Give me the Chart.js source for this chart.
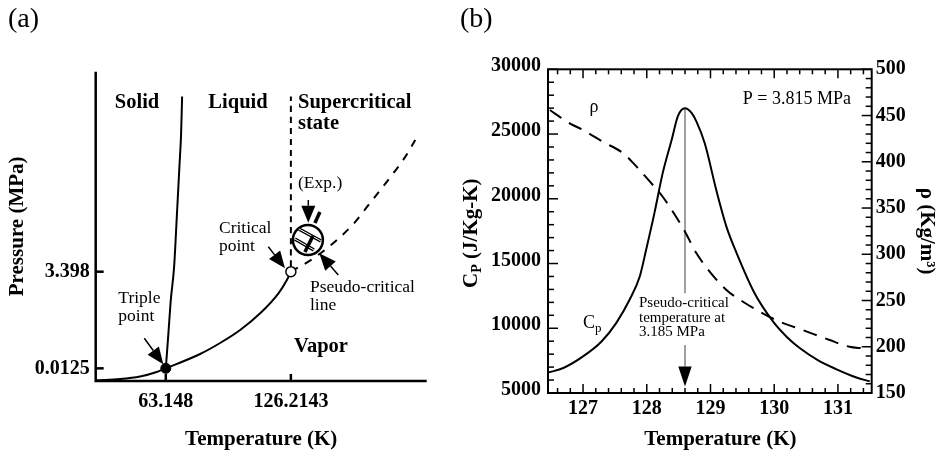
<!DOCTYPE html>
<html><head><meta charset="utf-8">
<script src="https://cdn.jsdelivr.net/npm/chart.js@4.4.0/dist/chart.umd.min.js"></script>
<style>
html,body{margin:0;padding:0;background:#fff;width:937px;height:450px;overflow:hidden}
#wa{position:absolute;left:0;top:0;width:455px;height:450px}
#wb{position:absolute;left:455px;top:0;width:482px;height:450px}
</style></head><body>
<div id="wa"><canvas id="ca"></canvas></div>
<div id="wb"><canvas id="cb"></canvas></div>
<script>
// ---------- Panel (a): schematic phase diagram ----------
const meltT   = [63.148, 64.46, 65.67, 67.34, 68.70, 70.01, 70.87, 71.37];
const meltP   = [0.0125, 0.0953, 0.658, 4.54, 82.7, 1505, 10450, 87400];
const vapT    = [28.34, 40.09, 50.18, 57.75, 63.148, 80.45, 90.54, 100.64, 110.73, 119.96, 124.20, 126.2143];
const vapP    = [0.00627, 0.00672, 0.00777, 0.0098, 0.0125, 0.0287, 0.0543, 0.1154, 0.304, 0.970, 2.10, 3.398];
const isoT    = [126.2143, 126.2143];
const isoP    = [4.7, 87400];
const pseudoT = [126.2143, 137.62, 149.42, 158.66, 165.37, 172.13, 177.98, 183.88, 188.93];
const pseudoP = [3.398, 7.40, 21.4, 60.8, 163, 437, 1044, 2642, 7083];
const tripleT = [63.148], tripleP = [0.0125];
const critT   = [126.2143], critP = [3.398];
const expT    = 134.8, expP = 21.4;
const aTickT  = [63.148, 126.2143];
const aTickTLabels = ['63.148', '126.2143'];
const aTickP  = [0.0125, 3.398];
const aTickPLabels = ['0.0125', '3.398'];

// ---------- Panel (b): Cp and density vs temperature ----------
const cpT  = [126.46, 126.69, 127.0, 127.29, 127.52, 127.73, 127.89, 127.99, 128.12, 128.25, 128.39, 128.49, 128.60, 128.70, 128.78, 128.91, 129.09, 129.25, 129.41, 129.69, 129.98, 130.19, 130.40, 130.69, 130.97, 131.29, 131.50];
const cpV  = [6590, 6930, 7825, 8980, 10400, 12200, 14000, 16060, 18890, 21980, 24540, 26400, 26990, 26650, 25960, 24290, 20690, 17850, 15800, 12720, 10530, 9370, 8470, 7520, 6850, 6200, 5900];
const rhoT = [126.48, 126.79, 127.0, 127.31, 127.63, 127.84, 128.05, 128.25, 128.46, 128.60, 128.78, 128.99, 129.25, 129.51, 129.82, 130.09, 130.45, 130.87, 131.18, 131.39];
const rhoV = [456, 441.6, 434.4, 421.7, 409.2, 394.7, 378.5, 362.2, 340.6, 324.4, 301, 281, 261.4, 248.7, 236.2, 227, 218, 207.3, 200, 198.3];
const bTickT   = [127, 128, 129, 130, 131];
const bTickCp  = [5000, 10000, 15000, 20000, 25000, 30000];
const bTickRho = [150, 200, 250, 300, 350, 400, 450, 500];
const pcT = 128.6, pcCp = 26990;

const FONT = '"Liberation Serif", "Times New Roman", serif';
const pts = (xs, ys) => xs.map((v, i) => ({x: v, y: ys[i]}));

function arrow(ctx, x1, y1, x2, y2, hl, hw, lw, col) {
  const dx = x2 - x1, dy = y2 - y1, L = Math.hypot(dx, dy), ux = dx / L, uy = dy / L;
  const bx = x2 - ux * hl, by = y2 - uy * hl;
  ctx.save();
  ctx.strokeStyle = col || '#000'; ctx.fillStyle = '#000'; ctx.lineWidth = lw;
  ctx.beginPath(); ctx.moveTo(x1, y1); ctx.lineTo(bx, by); ctx.stroke();
  ctx.beginPath(); ctx.moveTo(x2, y2);
  ctx.lineTo(bx - uy * hw, by + ux * hw); ctx.lineTo(bx + uy * hw, by - ux * hw);
  ctx.closePath(); ctx.fill();
  ctx.restore();
}
function text(ctx, t, x, y, size, bold, align) {
  ctx.save();
  ctx.font = (bold ? 'bold ' : '') + size + 'px ' + FONT;
  ctx.fillStyle = '#000'; ctx.textAlign = align || 'left'; ctx.textBaseline = 'middle';
  ctx.fillText(t, x, y);
  ctx.restore();
}

const aLabels = [
  {t: 'Solid', fx: .1248, fy: .1012, b: true, s: 20.5, a: 'center'},
  {t: 'Liquid', fx: .4299, fy: .1012, b: true, s: 20.5, a: 'center'},
  {t: 'Supercritical', fx: .6112, fy: .1012, b: true, s: 20.5, a: 'left'},
  {t: 'state', fx: .6112, fy: .1668, b: true, s: 20.5, a: 'left'},
  {t: 'Vapor', fx: .6807, fy: .890, b: true, s: 20.5, a: 'center'},
  {t: '(Exp.)', fx: .6112, fy: .3598, b: false, s: 17.5, a: 'left'},
  {t: 'Critical', fx: .3725, fy: .5053, b: false, s: 17.5, a: 'left'},
  {t: 'point', fx: .3725, fy: .5634, b: false, s: 17.5, a: 'left'},
  {t: 'Pseudo-critical', fx: .6474, fy: .697, b: false, s: 17.5, a: 'left'},
  {t: 'line', fx: .6474, fy: .7543, b: false, s: 17.5, a: 'left'},
  {t: 'Triple', fx: .0683, fy: .7326, b: false, s: 17.5, a: 'left'},
  {t: 'point', fx: .0683, fy: .7921, b: false, s: 17.5, a: 'left'}
];
const aArrows = [
  [.1468, .862, .2042, .9459],
  [.5215, .5658, .5719, .6356],
  [.6423, .4148, .6423, .4882],
  [.7329, .6573, .6755, .5871]
];

const panelA = {
  id: 'panelA',
  afterDatasetsDraw(chart) {
    const {ctx, scales: {x, y}} = chart;
    const cx = x.getPixelForValue(expT), cy = y.getPixelForValue(expP), r = 15;
    ctx.save();
    ctx.beginPath(); ctx.arc(cx, cy, r, 0, Math.PI * 2);
    ctx.fillStyle = '#fff'; ctx.fill();
    ctx.lineWidth = 2.5; ctx.strokeStyle = '#000'; ctx.stroke();
    ctx.lineCap = 'butt';
    ctx.lineWidth = 3.5;
    ctx.beginPath(); ctx.moveTo(cx - 9, cy - 11); ctx.lineTo(cx + 13, cy + 1); ctx.stroke();
    ctx.beginPath(); ctx.moveTo(cx - 13, cy - 1); ctx.lineTo(cx + 6, cy + 10); ctx.stroke();
    ctx.lineWidth = 1; ctx.strokeStyle = '#fff';
    ctx.beginPath(); ctx.moveTo(cx - 9, cy - 11); ctx.lineTo(cx + 13, cy + 1); ctx.stroke();
    ctx.beginPath(); ctx.moveTo(cx - 13, cy - 1); ctx.lineTo(cx + 6, cy + 10); ctx.stroke();
    ctx.strokeStyle = '#000'; ctx.lineWidth = 3.5;
    ctx.beginPath(); ctx.moveTo(cx + 5, cy - 4); ctx.lineTo(cx - 3, cy + 12); ctx.stroke();
    ctx.beginPath(); ctx.moveTo(cx + 12, cy - 28); ctx.lineTo(cx + 7, cy - 17); ctx.stroke();
    ctx.restore();
  },
  afterDraw(chart) {
    const {ctx, chartArea: ca, scales: {x, y}} = chart;
    const W = ca.right - ca.left, H = ca.bottom - ca.top;
    ctx.save();
    ctx.strokeStyle = '#000'; ctx.lineWidth = 2.5;
    ctx.beginPath(); ctx.moveTo(ca.left, ca.top); ctx.lineTo(ca.left, ca.bottom); ctx.lineTo(ca.right, ca.bottom); ctx.stroke();
    aTickT.forEach(v => { const p = x.getPixelForValue(v); ctx.beginPath(); ctx.moveTo(p, ca.bottom); ctx.lineTo(p, ca.bottom - 7); ctx.stroke(); });
    aTickP.forEach(v => { const p = y.getPixelForValue(v); ctx.beginPath(); ctx.moveTo(ca.left, p); ctx.lineTo(ca.left + 8, p); ctx.stroke(); });
    ctx.restore();
    aLabels.forEach(l => text(ctx, l.t, ca.left + l.fx * W, ca.top + l.fy * H, l.s, l.b, l.a));
    aArrows.forEach(a => arrow(ctx, ca.left + a[0] * W, ca.top + a[1] * H, ca.left + a[2] * W, ca.top + a[3] * H, 17, 7, 1.5));
    text(ctx, '(a)', 8, 20, 28, false, 'left');
  }
};

const lineA = {showLine: true, borderColor: '#000', borderWidth: 2, pointRadius: 0, cubicInterpolationMode: 'monotone'};

new Chart(document.getElementById('ca'), {
  type: 'scatter',
  data: {datasets: [
    {data: pts(critT, critP), pointRadius: 5, pointBackgroundColor: '#fff', pointBorderColor: '#000', pointBorderWidth: 1.5, showLine: false},
    {data: pts(tripleT, tripleP), pointRadius: 5, pointBackgroundColor: '#000', pointBorderColor: '#000', showLine: false},
    Object.assign({data: pts(meltT, meltP)}, lineA),
    Object.assign({data: pts(vapT, vapP)}, lineA),
    Object.assign({data: pts(isoT, isoP), borderDash: [6, 5]}, lineA),
    Object.assign({data: pts(pseudoT, pseudoP), borderDash: [8, 8]}, lineA)
  ]},
  options: {
    responsive: true, maintainAspectRatio: false, animation: false, devicePixelRatio: 1,
    layout: {padding: {top: 71.7, right: 28.3, left: 0, bottom: 0}},
    plugins: {legend: {display: false}, tooltip: {enabled: false}},
    scales: {
      x: {type: 'linear', min: 27.8, max: 194.7,
        afterBuildTicks: s => { s.ticks = aTickT.map(v => ({value: v})); },
        ticks: {callback: (v, i) => aTickTLabels[i], color: '#000', font: {family: FONT, size: 20, weight: 'bold'}, padding: 9, maxRotation: 0, autoSkip: false},
        grid: {display: false, drawTicks: false}, border: {display: false},
        title: {display: true, text: 'Temperature (K)', color: '#000', font: {family: FONT, size: 21, weight: 'bold', lineHeight: 1}, padding: {top: 0, bottom: 0}},
        afterFit: s => { s.height = 69; }
      },
      y: {type: 'logarithmic', min: 0.006, max: 3.7e5,
        afterBuildTicks: s => { s.ticks = aTickP.map(v => ({value: v})); },
        ticks: {callback: (v, i) => aTickPLabels[i], color: '#000', font: {family: FONT, size: 20, weight: 'bold'}, padding: 6, autoSkip: false},
        grid: {display: false, drawTicks: false}, border: {display: false},
        title: {display: true, text: 'Pressure (MPa)', color: '#000', font: {family: FONT, size: 21, weight: 'bold', lineHeight: 1}, padding: {top: 7, bottom: 0}},
        afterFit: s => { s.width = 95.7; }
      }
    }
  },
  plugins: [panelA]
});

// ---------- Panel (b) plugin ----------
const bLabels = [
  {t: 'P = 3.815 MPa', fx: .936, fy: .0927, s: 18, a: 'right'},
  {t: 'ρ', fx: .142, fy: .118, s: 18, a: 'center'},
  {t: 'Pseudo-critical', fx: .281, fy: .722, s: 15, a: 'left'},
  {t: 'temperature at', fx: .281, fy: .767, s: 15, a: 'left'},
  {t: '3.185 MPa', fx: .281, fy: .811, s: 15, a: 'left'}
];
const panelB = {
  id: 'panelB',
  beforeDatasetsDraw(chart) {
    const {ctx, scales: {x, y}} = chart;
    const px = x.getPixelForValue(pcT);
    ctx.save(); ctx.strokeStyle = '#808080'; ctx.lineWidth = 1.5;
    ctx.beginPath(); ctx.moveTo(px, y.getPixelForValue(pcCp)); ctx.lineTo(px, y.getPixelForValue(12700)); ctx.stroke();
    ctx.restore();
    arrow(ctx, px, y.getPixelForValue(8700), px, y.getPixelForValue(5500), 20, 6.7, 1.5, '#808080');
  },
  afterDraw(chart) {
    const {ctx, chartArea: ca, scales: {x, y, y1}} = chart;
    const W = ca.right - ca.left, H = ca.bottom - ca.top;
    ctx.save();
    ctx.strokeStyle = '#000'; ctx.lineWidth = 2;
    ctx.strokeRect(ca.left, ca.top, W, H);
    ctx.lineWidth = 1.5;
    const seg = (x1, y1_, x2, y2) => { ctx.beginPath(); ctx.moveTo(x1, y1_); ctx.lineTo(x2, y2); ctx.stroke(); };
    for (let k = Math.ceil(x.min / 0.2); k * 0.2 <= x.max; k++) {
      const v = k * 0.2, p = x.getPixelForValue(v), major = k % 5 === 0, L = major ? 9 : 5;
      seg(p, ca.bottom, p, ca.bottom - L); seg(p, ca.top, p, ca.top + L);
    }
    for (let v = 5000; v <= 30000; v += 1000) {
      const p = y.getPixelForValue(v), L = v % 5000 === 0 ? 10 : 6;
      seg(ca.left, p, ca.left + L, p);
    }
    for (let v = 150; v <= 500; v += 10) {
      const p = y1.getPixelForValue(v), L = v % 50 === 0 ? 10 : 6;
      seg(ca.right, p, ca.right - L, p);
    }
    ctx.restore();
    bLabels.forEach(l => text(ctx, l.t, ca.left + l.fx * W, ca.top + l.fy * H, l.s, false, l.a));
    // Cp label near curve
    text(ctx, 'C', ca.left + .108 * W, ca.top + .786 * H, 18, false, 'left');
    text(ctx, 'p', ca.left + .108 * W + 12, ca.top + .786 * H + 5, 13, false, 'left');
    // left axis title with subscript
    ctx.save();
    ctx.translate(17, (ca.top + ca.bottom) / 2 + 2);
    ctx.rotate(-Math.PI / 2);
    ctx.fillStyle = '#000'; ctx.textBaseline = 'middle';
    const f1 = 'bold 21px ' + FONT, f2 = 'bold 14px ' + FONT;
    ctx.font = f1; const wC = ctx.measureText('C').width, wR = ctx.measureText(' (J/Kg-K)').width;
    ctx.font = f2; const wP = ctx.measureText('P').width;
    let sx = -(wC + wP + wR) / 2;
    ctx.font = f1; ctx.fillText('C', sx, 0); sx += wC;
    ctx.font = f2; ctx.fillText('P', sx, 5); sx += wP;
    ctx.font = f1; ctx.fillText(' (J/Kg-K)', sx, 0);
    ctx.restore();
    text(ctx, '(b)', 5, 20, 28, false, 'left');
  }
};

new Chart(document.getElementById('cb'), {
  type: 'scatter',
  data: {datasets: [
    {label: 'Cp', data: pts(cpT, cpV), showLine: true, borderColor: '#000', borderWidth: 2, pointRadius: 0, cubicInterpolationMode: 'monotone', yAxisID: 'y'},
    {label: 'ρ', data: pts(rhoT, rhoV), showLine: true, borderColor: '#000', borderWidth: 2, borderDash: [14, 9], pointRadius: 0, cubicInterpolationMode: 'monotone', yAxisID: 'y1'}
  ]},
  options: {
    responsive: true, maintainAspectRatio: false, animation: false, devicePixelRatio: 1,
    layout: {padding: {top: 69.3, right: 0, left: 0, bottom: 0}},
    plugins: {legend: {display: false}, tooltip: {enabled: false}},
    scales: {
      x: {type: 'linear', min: 126.45, max: 131.53,
        afterBuildTicks: s => { s.ticks = bTickT.map(v => ({value: v})); },
        ticks: {callback: v => String(v), color: '#000', font: {family: FONT, size: 20, weight: 'bold'}, padding: 4, maxRotation: 0, autoSkip: false},
        grid: {display: false, drawTicks: false}, border: {display: false},
        title: {display: true, text: '\u2002\u2002Temperature (K)', color: '#000', font: {family: FONT, size: 21, weight: 'bold', lineHeight: 1}, padding: {top: 0, bottom: 0}},
        afterFit: s => { s.height = 57; }
      },
      y: {type: 'linear', position: 'left', min: 5000, max: 30000,
        afterBuildTicks: s => { s.ticks = bTickCp.map(v => ({value: v})); },
        ticks: {callback: v => String(v), color: '#000', font: {family: FONT, size: 20, weight: 'bold'}, padding: 7, labelOffset: -3, autoSkip: false},
        grid: {display: false, drawTicks: false}, border: {display: false},
        afterFit: s => { s.width = 93; }
      },
      y1: {type: 'linear', position: 'right', min: 150, max: 500,
        afterBuildTicks: s => { s.ticks = bTickRho.map(v => ({value: v})); },
        ticks: {callback: v => String(v), color: '#000', font: {family: FONT, size: 20, weight: 'bold'}, padding: 4, autoSkip: false},
        grid: {display: false, drawTicks: false}, border: {display: false},
        title: {display: true, text: 'ρ (Kg/m³)', color: '#000', font: {family: FONT, size: 21, weight: 'bold', lineHeight: 1}, padding: {top: 0, bottom: 0}},
        afterFit: s => { s.width = 65.3; }
      }
    }
  },
  plugins: [panelB]
});
</script>
</body></html>
